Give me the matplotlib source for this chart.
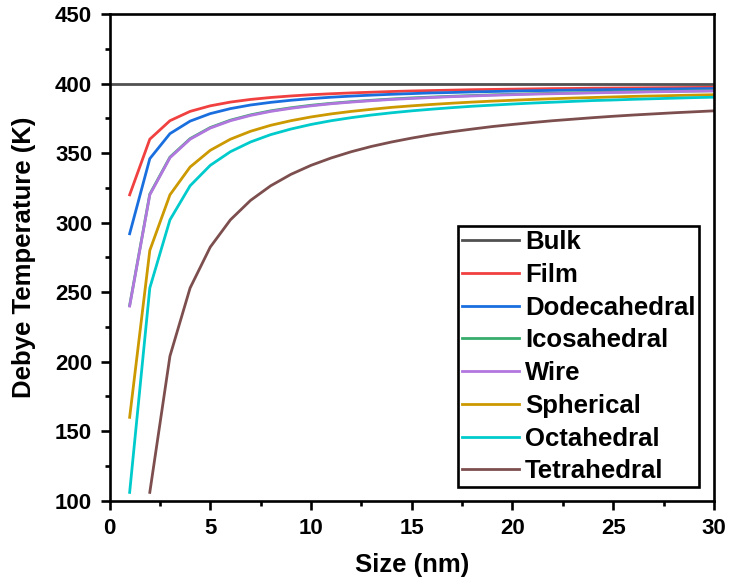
import matplotlib

matplotlib.use("Agg")
import matplotlib.pyplot as plt
from matplotlib.ticker import MultipleLocator

# size (nm)
size = list(range(1, 31))
size_tetra = list(range(2, 31))
size_bulk = [0, 30]

bulk = [400.0, 400.0]
film = [320.0, 360.0, 373.3, 380.0, 384.0, 386.7, 388.6, 390.0, 391.1, 392.0,
        392.7, 393.3, 393.8, 394.3, 394.7, 395.0, 395.3, 395.6, 395.8, 396.0,
        396.2, 396.4, 396.5, 396.7, 396.8, 396.9, 397.0, 397.1, 397.2, 397.3]
dodecahedral = [292.0, 346.0, 364.0, 373.0, 378.4, 382.0, 384.6, 386.5, 388.0, 389.2,
                390.2, 391.0, 391.7, 392.3, 392.8, 393.3, 393.6, 394.0, 394.3, 394.6,
                394.9, 395.1, 395.3, 395.5, 395.7, 395.8, 396.0, 396.1, 396.3, 396.4]
icosahedral = [240.5, 320.5, 347.1, 360.4, 368.4, 373.7, 377.5, 380.4, 382.6, 384.4,
               385.8, 387.0, 388.0, 388.9, 389.7, 390.3, 390.9, 391.4, 391.9, 392.3,
               392.7, 393.0, 393.3, 393.6, 393.9, 394.1, 394.3, 394.5, 394.7, 394.9]
wire = [240.0, 320.0, 346.7, 360.0, 368.0, 373.3, 377.1, 380.0, 382.2, 384.0,
        385.5, 386.7, 387.7, 388.6, 389.3, 390.0, 390.6, 391.1, 391.6, 392.0,
        392.4, 392.7, 393.0, 393.3, 393.6, 393.8, 394.1, 394.3, 394.5, 394.7]
spherical = [160.0, 280.0, 320.0, 340.0, 352.0, 360.0, 365.7, 370.0, 373.3, 376.0,
             378.2, 380.0, 381.5, 382.9, 384.0, 385.0, 385.9, 386.7, 387.4, 388.0,
             388.6, 389.1, 389.6, 390.0, 390.4, 390.8, 391.1, 391.4, 391.7, 392.0]
octahedral = [106.0, 253.0, 302.0, 326.5, 341.2, 351.0, 358.0, 363.3, 367.3, 370.6,
              373.3, 375.5, 377.4, 379.0, 380.4, 381.6, 382.7, 383.7, 384.5, 385.3,
              386.0, 386.6, 387.2, 387.8, 388.2, 388.7, 389.1, 389.5, 389.9, 390.2]
tetrahedral = [106.0, 204.0, 253.0, 282.4, 302.0, 316.0, 326.5, 334.7, 341.2,
               346.5, 351.0, 354.8, 358.0, 360.8, 363.3, 365.4, 367.3, 369.1, 370.6,
               372.0, 373.3, 374.4, 375.5, 376.5, 377.4, 378.2, 379.0, 379.7, 380.4]

plt.rcParams["font.family"] = ["Liberation Sans", "DejaVu Sans"]
plt.rcParams["font.weight"] = "bold"

fig = plt.figure(figsize=(7.3, 5.86), dpi=100)
ax = fig.add_axes([0.15, 0.1455, 0.828, 0.8305])

lw = 2.0
ax.plot(size_bulk, bulk, color="#515151", lw=lw, label="Bulk")
ax.plot(size, film, color="#F14040", lw=lw, label="Film")
ax.plot(size, dodecahedral, color="#1A6FDF", lw=lw, label="Dodecahedral")
ax.plot(size, icosahedral, color="#37AD6B", lw=lw, label="Icosahedral")
ax.plot(size, wire, color="#B177DE", lw=lw, label="Wire")
ax.plot(size, spherical, color="#CC9900", lw=lw, label="Spherical")
ax.plot(size, octahedral, color="#00CBCC", lw=lw, label="Octahedral")
ax.plot(size_tetra, tetrahedral, color="#7D4E4E", lw=lw, label="Tetrahedral")

ax.set_xlim(0, 30)
ax.set_ylim(100, 450)
ax.xaxis.set_major_locator(MultipleLocator(5))
ax.xaxis.set_minor_locator(MultipleLocator(2.5))
ax.yaxis.set_major_locator(MultipleLocator(50))
ax.yaxis.set_minor_locator(MultipleLocator(25))

for s in ax.spines.values():
    s.set_linewidth(1.9)
ax.tick_params(which="both", direction="out", width=1.9, top=False, right=False)
ax.tick_params(which="major", length=6.5, labelsize=16, pad=6)
ax.tick_params(which="minor", length=3.5)

ax.set_xlabel("Size (nm)", fontsize=18.5, fontweight="bold", labelpad=10)
ax.set_ylabel("Debye Temperature (K)", fontsize=18.5, fontweight="bold", labelpad=14)

leg = ax.legend(loc="lower right", bbox_to_anchor=(0.976, 0.028), fontsize=18.5,
                frameon=True, fancybox=False, edgecolor="black", framealpha=1,
                handlelength=2.2, handletextpad=0.25, labelspacing=0.34,
                borderpad=0.15, borderaxespad=0)
leg.get_frame().set_linewidth(1.9)
for t in leg.get_texts():
    t.set_fontweight("bold")

fig.savefig("out.png", dpi=100)
